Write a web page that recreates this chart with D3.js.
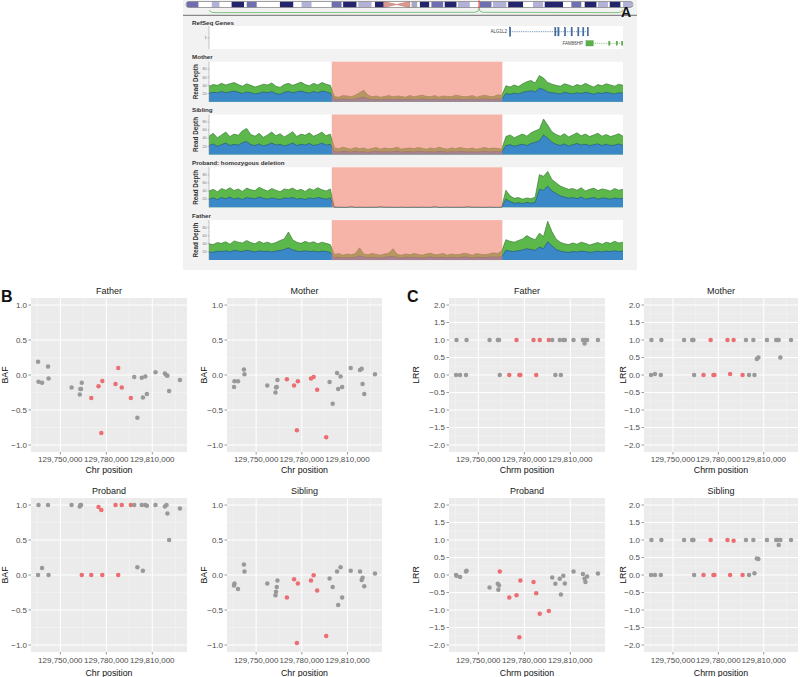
<!DOCTYPE html>
<html>
<head>
<meta charset="utf-8">
<script src="https://cdn.jsdelivr.net/npm/d3@7/dist/d3.min.js"></script>
<style>
html,body{margin:0;padding:0;background:#fff;}
svg{display:block;}
text{font-family:"Liberation Sans",Arial,Helvetica,sans-serif;}
</style>
</head>
<body>
<svg id="chart" width="800" height="677"></svg>
<script>
// ================= DATA =================
// --- Panel A: chromosome 3 ideogram (Mb) ---
const chromosomeLengthMb = 198;
const ideogramBands = [
  [0.3,5.5,"gpos50"],[11.4,14.8,"gpos25"],[20.2,25.7,"gpos100"],[26.9,31.3,"gpos50"],
  [41.6,47.5,"gpos100"],[51.2,55.6,"gpos25"],[64.5,68.9,"gpos50"],[69.6,75.5,"gpos100"],
  [76.3,82.2,"gpos25"],[83.7,87.6,"gpos100"],[87.6,93.2,"acenP"],[93.2,99.1,"acenQ"],
  [99.9,102.4,"gvar"],[103.6,107.7,"gpos100"],[108.7,113.9,"gpos50"],[114.6,119.8,"gpos100"],
  [120.5,125.7,"gpos25"],[130.1,135.3,"gpos50"],[136.0,141.9,"gpos25"],[142.7,149.3,"gpos100"],
  [153.7,158.2,"gpos25"],[158.9,167.0,"gpos100"],[170.7,175.1,"gpos50"],[176.6,181.8,"gpos100"],
  [182.5,186.9,"gpos25"],[187.7,192.4,"gpos100"],[193.6,197.7,"gpos25"]
];
const regionMarkerMb = 129.8;

// --- Panel A: browser region (bp) ---
const browserStart = 129700000;
const browserEnd = 129900000;
const deletionStart = 129759300;
const deletionEnd = 129841700;

const geneNames = ["ALG1L2", "FAM86HP"];
const geneStarts = [129845400, 129882100];
const geneEnds = [129883100, 129900000];
const geneExons = [
  [[129845100,129845800],[129867000,129867600],[129868500,129869100],[129871700,129872300],
   [129874900,129875500],[129878100,129878700],[129880500,129881100],[129882700,129883300]],
  [[129882100,129885650],[129893100,129893700],[129896700,129897300],[129899300,129899900]]
];

const depthTrackNames = ["Mother", "Sibling", "Proband: homozygous deletion", "Father"];
const depthTicks = [20, 40, 60, 80];
const motherDepthGreen = [38,42,40,45,41,44,47,42,38,44,40,36,39,43,41,46,38,35,42,45,40,44,48,42,39,45,41,47,43,40,
  13,11,15,14,12,16,22,28,16,12,14,11,13,15,12,14,13,11,15,12,14,16,13,12,15,11,14,13,12,16,14,12,13,15,11,14,16,13,12,17,15,
  39,36,41,37,44,49,52,46,64,58,47,43,40,38,44,41,37,42,39,45,40,36,42,39,44,41,38,43,40];
const motherDepthBlue = [21,23,22,25,22,24,26,23,20,24,22,19,21,24,22,25,20,18,23,25,22,24,26,23,21,25,22,26,24,21,
  6,5,7,6,5,7,9,11,7,5,6,5,6,7,5,6,6,5,7,5,6,7,6,5,7,5,6,6,5,7,6,5,6,7,5,6,7,6,5,7,6,
  20,18,21,19,23,25,27,24,33,30,24,22,21,19,23,21,19,22,20,23,21,18,22,20,23,21,19,22,21];
const siblingDepthGreen = [45,52,41,48,55,44,50,47,58,64,49,45,52,42,48,55,46,51,43,49,56,44,50,47,53,45,49,55,46,50,
  16,14,18,15,13,17,14,16,12,15,17,13,16,14,15,18,13,15,16,14,17,15,13,16,14,18,15,13,16,14,17,15,14,16,13,15,17,14,16,15,13,
  44,48,41,46,50,45,53,58,62,87,72,56,49,45,51,43,48,53,46,50,44,48,52,45,49,44,47,51,45];
const siblingDepthBlue = [22,26,20,24,28,22,25,23,29,32,24,22,26,21,24,28,23,25,21,24,28,22,25,23,27,22,24,28,23,25,
  7,6,8,7,6,8,6,7,5,7,8,6,7,6,7,8,6,7,7,6,8,7,6,7,6,8,7,6,7,6,8,7,6,7,6,7,8,6,7,7,6,
  22,24,20,23,25,22,27,30,33,48,40,30,25,22,26,21,24,27,23,25,22,24,26,22,25,22,23,26,22];
const probandDepthGreen = [40,44,38,46,42,48,41,45,39,47,43,41,49,44,40,46,42,38,45,43,47,41,44,39,46,42,48,43,40,45,
  0,1,0,0,2,0,1,0,0,1,0,2,0,1,0,0,1,0,0,1,0,1,0,0,2,0,0,1,0,0,1,0,2,0,1,0,0,1,0,0,1,
  42,28,22,24,20,23,21,25,80,76,88,68,60,52,48,44,46,42,48,40,44,47,41,45,43,40,46,42,44];
const probandDepthBlue = [20,23,19,24,21,25,20,23,19,24,22,21,25,22,20,23,21,19,23,22,24,20,22,19,23,21,24,22,20,23,
  0,0,0,0,1,0,0,0,0,0,0,1,0,0,0,0,0,0,0,0,0,0,0,0,1,0,0,0,0,0,0,0,1,0,0,0,0,0,0,0,0,
  20,14,10,11,9,12,10,12,44,42,52,40,34,28,25,22,24,21,25,20,22,24,20,23,22,20,23,21,22];
const fatherDepthGreen = [40,38,43,41,45,39,47,44,42,48,43,40,46,41,44,40,43,48,52,69,50,44,41,46,42,45,40,44,41,38,
  14,16,12,15,13,16,30,15,13,16,14,12,15,17,28,14,12,15,13,16,14,12,15,17,13,14,16,12,15,13,14,17,15,12,16,14,13,15,18,16,22,
  50,46,44,48,52,60,54,50,66,58,95,70,52,44,40,38,42,39,44,41,37,40,43,39,44,41,46,42,44];
const fatherDepthBlue = [20,19,22,21,23,20,24,22,21,24,22,20,23,21,22,20,22,24,26,30,25,22,21,23,21,22,20,22,21,19,
  6,7,5,6,6,7,10,7,6,7,6,5,7,8,9,6,5,7,6,7,6,5,7,8,6,6,7,5,7,6,6,8,7,5,7,6,6,7,8,7,8,
  24,22,21,23,25,28,26,24,32,28,45,35,26,22,20,19,21,20,22,21,19,20,22,20,22,21,23,21,22];

// --- Panels B & C: SNP positions and values ---
const snpPositions = [129735500,129735780,129738090,129741975,129742345,129757330,129762695,
  129763065,129763530,129763990,129770190,129774905,129776755,129777400,129786005,129787760,
  129790075,129795995,129798215,129800250,129803120,129803860,129805430,129806450,129812090,
  129818195,129819305,129819860,129820970,129828000];

const bafFather = [0.19,-0.095,-0.11,0.12,-0.05,-0.18,-0.28,-0.20,-0.20,-0.11,-0.33,-0.16,-0.83,
  -0.085,-0.13,0.10,-0.18,-0.33,-0.03,-0.61,-0.04,-0.32,-0.02,-0.27,0.04,0.02,-0.005,-0.01,-0.23,-0.07];
const bafMother = [-0.17,-0.09,-0.09,0.08,0.01,-0.15,-0.25,-0.18,-0.17,-0.07,-0.06,-0.15,-0.79,
  -0.09,-0.05,-0.03,-0.21,-0.89,-0.10,-0.41,0.03,-0.20,-0.02,-0.17,0.10,0.07,0.09,-0.13,-0.27,0.01];
const bafProband = [0.0,1.0,0.1,1.0,0.0,1.0,0.98,1.0,1.0,0.0,0.0,0.97,0.93,0.0,1.0,0.0,1.0,1.0,
  1.0,0.11,1.0,0.06,1.0,0.99,1.0,0.98,1.0,0.88,0.5,0.95];
const bafSibling = [-0.15,-0.12,-0.20,0.15,0.05,-0.12,-0.29,-0.24,-0.17,-0.08,-0.32,-0.06,-0.97,
  -0.12,-0.08,-0.005,-0.22,-0.87,-0.05,-0.17,0.05,-0.43,0.11,-0.32,0.06,0.05,-0.07,-0.04,-0.16,0.02];

const lrrFather = [0,1,0,0,1,1,1,1,1,0,0,1,0,0,1,0,1,1,1,0,1,0,1,1,1,1,0.9,1,1,1];
const lrrMother = [0,1,0.03,0,1,1,1,1,1,0,0,1,0,0,1,0.03,1,0,1,0,1,0,0.46,0.5,1,1,1,1,0.5,1];
const lrrProband = [0.0,-0.02,-0.06,0.1,0.12,-0.36,-0.25,-0.42,-0.3,0.1,-0.64,-0.58,-1.78,-0.16,
  -0.2,-0.52,-1.11,-1.03,-0.07,-0.25,-0.11,-0.56,-0.02,-0.24,0.1,0.03,-0.11,-0.2,-0.04,0.04];
const lrrSibling = [0,1,0,0,1,1,1,1,1,0,0,1,0,0,1,0,0.98,0,1,0,1,0.05,0.47,0.46,1,1,1,0.86,1,1];

const deletionSnpsFamily = [10,11,12,13,14,15,16,17];
const deletionSnpsProband = [9,10,11,12,13,14,15,16,17];

const bafTicks = [-1, -0.5, 0, 0.5, 1];
const lrrTicks = [-2, -1.5, -1, -0.5, 0, 0.5, 1, 1.5, 2];
const positionTicks = [129750000, 129780000, 129810000];

// ================= DRAWING =================
const svg = d3.select("#chart");

// ---------- Panel A ----------
const A = svg.append("g");
A.append("rect").attr("x", 183).attr("y", 0).attr("width", 454).attr("height", 270).attr("fill", "#f2f2f2");

const ideoX = d3.scaleLinear().domain([0, chromosomeLengthMb]).range([186, 633]);
const ideoTop = 1.5, ideoH = 6;
const bandColor = {gpos100:"#24246e", gpos75:"#45458f", gpos50:"#6e6eb0", gpos25:"#b2b2d8", gvar:"#a8a8c0"};
const defs = svg.append("defs");
defs.append("clipPath").attr("id", "ideoClip").append("rect")
  .attr("x", ideoX(0)).attr("y", ideoTop).attr("width", ideoX(chromosomeLengthMb) - ideoX(0))
  .attr("height", ideoH).attr("rx", 3).attr("ry", 3);
const ideo = A.append("g").attr("clip-path", "url(#ideoClip)");
ideo.append("rect").attr("x", ideoX(0)).attr("y", ideoTop).attr("width", ideoX(chromosomeLengthMb) - ideoX(0))
  .attr("height", ideoH).attr("fill", "#fff");
ideogramBands.forEach(b => {
  if (b[2] === "acenP") {
    ideo.append("path").attr("d", `M${ideoX(b[0])},${ideoTop}L${ideoX(b[1])},${ideoTop+ideoH/2}L${ideoX(b[0])},${ideoTop+ideoH}Z`)
      .attr("fill", "#d99a94").attr("stroke", "#c0605a").attr("stroke-width", 0.5);
  } else if (b[2] === "acenQ") {
    ideo.append("path").attr("d", `M${ideoX(b[1])},${ideoTop}L${ideoX(b[0])},${ideoTop+ideoH/2}L${ideoX(b[1])},${ideoTop+ideoH}Z`)
      .attr("fill", "#d99a94").attr("stroke", "#c0605a").attr("stroke-width", 0.5);
  } else {
    ideo.append("rect").attr("x", ideoX(b[0])).attr("y", ideoTop).attr("width", ideoX(b[1]) - ideoX(b[0]))
      .attr("height", ideoH).attr("fill", bandColor[b[2]]);
  }
});
A.append("rect").attr("x", ideoX(0)).attr("y", ideoTop).attr("width", ideoX(chromosomeLengthMb) - ideoX(0))
  .attr("height", ideoH).attr("rx", 3).attr("ry", 3).attr("fill", "none").attr("stroke", "#666").attr("stroke-width", 0.6);
const mk = ideoX(regionMarkerMb);
A.append("line").attr("x1", mk).attr("x2", mk).attr("y1", 0.5).attr("y2", ideoTop + ideoH + 1)
  .attr("stroke", "#e02a20").attr("stroke-width", 1);

const bx = d3.scaleLinear().domain([browserStart, browserEnd]).range([209, 623]);
// zoom guide lines
A.append("path").attr("d", `M${bx(browserStart)},10 Q${bx(browserStart)+1},12.6 ${bx(browserStart)+5},12.6 L${mk-4},12.3 Q${mk},12 ${mk},${ideoTop+ideoH+1} Q${mk},12 ${mk+4},12.3 L${bx(browserEnd)-5},12.6 Q${bx(browserEnd)-1},12.6 ${bx(browserEnd)},10`)
  .attr("fill", "none").attr("stroke", "#52b050").attr("stroke-width", 0.7);
A.append("line").attr("x1", 183).attr("x2", 637).attr("y1", 15.3).attr("y2", 15.3).attr("stroke", "#6f6f6f").attr("stroke-width", 1);

A.append("text").attr("x", 621).attr("y", 17).attr("font-size", 14).attr("font-weight", "bold").attr("fill", "#111").text("A");

// RefSeq genes track
A.append("text").attr("x", 192).attr("y", 24.8).attr("font-size", 6.2).attr("font-weight", "bold").attr("fill", "#333").text("RefSeq Genes");
A.append("rect").attr("x", 209).attr("y", 26).attr("width", 414).attr("height", 23).attr("fill", "#fff");
A.append("line").attr("x1", 209).attr("x2", 209).attr("y1", 26).attr("y2", 49).attr("stroke", "#888").attr("stroke-width", 0.5);
A.append("line").attr("x1", 207.5).attr("x2", 209).attr("y1", 37.7).attr("y2", 37.7).attr("stroke", "#888").attr("stroke-width", 0.5);
A.append("text").attr("x", 206.5).attr("y", 39).attr("font-size", 3.8).attr("text-anchor", "end").attr("fill", "#666").text("1");
const geneColors = ["#3c6ea6", "#5cb14a"];
const geneRowY = [31.7, 43.3];
const geneExonH = [[9.5, 8.5], [5.4, 4]];
geneNames.forEach((name, i) => {
  const y = geneRowY[i];
  A.append("line").attr("x1", bx(geneStarts[i])).attr("x2", bx(geneEnds[i])).attr("y1", y).attr("y2", y)
    .attr("stroke", geneColors[i]).attr("stroke-width", 0.7).attr("stroke-dasharray", "1.2,1");
  geneExons[i].forEach((e, j) => {
    const h = j === 0 ? geneExonH[i][0] : geneExonH[i][1];
    const w = Math.max(1.3, bx(e[1]) - bx(e[0]));
    A.append("rect").attr("x", bx(e[0])).attr("y", y - h / 2).attr("width", w).attr("height", h)
      .attr("fill", geneColors[i]).attr("stroke", d3.color(geneColors[i]).darker(0.8)).attr("stroke-width", 0.3);
  });
  A.append("text").attr("x", bx(geneStarts[i]) - 3).attr("y", y + 1.6).attr("font-size", 4.5)
    .attr("text-anchor", "end").attr("fill", "#444").text(name);
});

// Read depth tracks
const depthGreen = [motherDepthGreen, siblingDepthGreen, probandDepthGreen, fatherDepthGreen];
const depthBlue = [motherDepthBlue, siblingDepthBlue, probandDepthBlue, fatherDepthBlue];
depthTrackNames.forEach((name, i) => {
  const top = 61.7 + i * 52.8, h = 40;
  const n = depthGreen[i].length;
  const binPos = d3.range(n).map(k => browserStart + k * (browserEnd - browserStart) / (n - 1));
  const y = d3.scaleLinear().domain([0, 98]).range([top + h, top]);
  const g = A.append("g");
  g.append("text").attr("x", 192).attr("y", top - 2.4).attr("font-size", 6.2).attr("font-weight", "bold").attr("fill", "#333").text(name);
  g.append("rect").attr("x", 209).attr("y", top).attr("width", 414).attr("height", h).attr("fill", "#fff");
  const areaG = d3.area().x((d, k) => bx(binPos[k])).y0(y(0)).y1(d => y(d));
  const lineG = d3.line().x((d, k) => bx(binPos[k])).y(d => y(d));
  g.append("path").attr("d", areaG(depthGreen[i])).attr("fill", "#5cb84a");
  g.append("path").attr("d", lineG(depthGreen[i])).attr("fill", "none").attr("stroke", "#2f6f2a").attr("stroke-width", 0.6);
  g.append("path").attr("d", areaG(depthBlue[i])).attr("fill", "#3b88c9");
  g.append("path").attr("d", lineG(depthBlue[i])).attr("fill", "none").attr("stroke", "#1c4f82").attr("stroke-width", 0.6);
  g.append("rect").attr("x", bx(deletionStart)).attr("y", top).attr("width", bx(deletionEnd) - bx(deletionStart))
    .attr("height", h).attr("fill", "rgb(240,128,110)").attr("opacity", 0.6);
  g.append("line").attr("x1", 209).attr("x2", 209).attr("y1", top).attr("y2", top + h).attr("stroke", "#888").attr("stroke-width", 0.5);
  depthTicks.forEach(t => {
    g.append("line").attr("x1", 207.5).attr("x2", 209).attr("y1", y(t)).attr("y2", y(t)).attr("stroke", "#888").attr("stroke-width", 0.5);
    g.append("text").attr("x", 206.5).attr("y", y(t) + 1.3).attr("font-size", 3.6).attr("text-anchor", "end").attr("fill", "#777").text(t);
  });
  g.append("text").attr("transform", `translate(197.6,${top + h / 2}) rotate(-90)`).attr("text-anchor", "middle")
    .attr("font-size", 6.3).attr("font-weight", "bold").attr("fill", "#333").text("Read Depth");
});

// ---------- Panels B & C ----------
const xExt = d3.extent(snpPositions);
const xPad = 0.05 * (xExt[1] - xExt[0]);
const xDomain = [xExt[0] - xPad, xExt[1] + xPad];
function minorBreaks(major, domain) {
  const step = major[1] - major[0], out = [];
  for (let v = major[0] - step / 2; v <= major[major.length - 1] + step / 2 + 1e-9; v += step)
    if (v >= domain[0] && v <= domain[1]) out.push(v);
  return out;
}
const fmtY = d3.format(".1f"), fmtX = d3.format(",");

function scatter(o) {
  const g = svg.append("g");
  const x = d3.scaleLinear().domain(xDomain).range([o.left, o.right]);
  const pad = 0.05 * (o.ticks[o.ticks.length - 1] - o.ticks[0]);
  const yDom = [o.ticks[0] - pad, o.ticks[o.ticks.length - 1] + pad];
  const y = d3.scaleLinear().domain(yDom).range([o.bottom, o.top]);
  g.append("rect").attr("x", o.left).attr("y", o.top).attr("width", o.right - o.left).attr("height", o.bottom - o.top).attr("fill", "#ebebeb");
  minorBreaks(o.ticks, yDom).forEach(v => g.append("line").attr("x1", o.left).attr("x2", o.right).attr("y1", y(v)).attr("y2", y(v)).attr("stroke", "#f6f6f6").attr("stroke-width", 0.5));
  minorBreaks(positionTicks, xDomain).forEach(v => g.append("line").attr("x1", x(v)).attr("x2", x(v)).attr("y1", o.top).attr("y2", o.bottom).attr("stroke", "#f6f6f6").attr("stroke-width", 0.5));
  o.ticks.forEach(v => g.append("line").attr("x1", o.left).attr("x2", o.right).attr("y1", y(v)).attr("y2", y(v)).attr("stroke", "#fff").attr("stroke-width", 1));
  positionTicks.forEach(v => g.append("line").attr("x1", x(v)).attr("x2", x(v)).attr("y1", o.top).attr("y2", o.bottom).attr("stroke", "#fff").attr("stroke-width", 1));
  // points
  g.selectAll("circle").data(o.values).join("circle")
    .attr("cx", (d, i) => x(snpPositions[i])).attr("cy", d => y(d)).attr("r", 2.25)
    .attr("fill", (d, i) => o.red.includes(i) ? "#ec6e72" : "#999999");
  // axes
  o.ticks.forEach(v => {
    g.append("line").attr("x1", o.left - 2.5).attr("x2", o.left).attr("y1", y(v)).attr("y2", y(v)).attr("stroke", "#333").attr("stroke-width", 0.5);
    g.append("text").attr("x", o.left - 4).attr("y", y(v)).attr("dy", "0.35em").attr("text-anchor", "end")
      .attr("font-size", 8).attr("fill", "#4d4d4d").text(fmtY(v));
  });
  positionTicks.forEach(v => {
    g.append("line").attr("x1", x(v)).attr("x2", x(v)).attr("y1", o.bottom).attr("y2", o.bottom + 2.5).attr("stroke", "#333").attr("stroke-width", 0.5);
    g.append("text").attr("x", x(v)).attr("y", o.tickBase).attr("text-anchor", "middle")
      .attr("font-size", 8).attr("fill", "#4d4d4d").text(fmtX(v));
  });
  const cx = (o.left + o.right) / 2;
  g.append("text").attr("x", cx).attr("y", o.top - 4.5).attr("text-anchor", "middle").attr("font-size", 9).attr("fill", "#1a1a1a").text(o.title);
  g.append("text").attr("x", cx).attr("y", o.titleBase).attr("text-anchor", "middle").attr("font-size", 8.8).attr("fill", "#111").text(o.xTitle);
  g.append("text").attr("transform", `translate(${o.yTitleX},${(o.top + o.bottom) / 2}) rotate(-90)`).attr("text-anchor", "middle")
    .attr("font-size", 8.8).attr("fill", "#111").text(o.yTitle);
}

const rowTop = [{top: 298, bottom: 452, tickBase: 462.3, titleBase: 472.6}, {top: 498, bottom: 652, tickBase: 663, titleBase: 675.5}];
const bCols = [{left: 31, right: 187, yTitleX: 8}, {left: 227, right: 382, yTitleX: 207}];
const cCols = [{left: 449, right: 605, yTitleX: 418.5}, {left: 644, right: 798, yTitleX: 625.5}];

const bPanels = [[bafFather, "Father", deletionSnpsFamily], [bafMother, "Mother", deletionSnpsFamily],
                 [bafProband, "Proband", deletionSnpsProband], [bafSibling, "Sibling", deletionSnpsFamily]];
const cPanels = [[lrrFather, "Father", deletionSnpsFamily], [lrrMother, "Mother", deletionSnpsFamily],
                 [lrrProband, "Proband", deletionSnpsProband], [lrrSibling, "Sibling", deletionSnpsFamily]];
bPanels.forEach((p, i) => {
  const r = rowTop[Math.floor(i / 2)], c = bCols[i % 2];
  scatter(Object.assign({}, r, c, {values: p[0], title: p[1], red: p[2], ticks: bafTicks, xTitle: "Chr position", yTitle: "BAF"}));
});
cPanels.forEach((p, i) => {
  const r = rowTop[Math.floor(i / 2)], c = cCols[i % 2];
  scatter(Object.assign({}, r, c, {values: p[0], title: p[1], red: p[2], ticks: lrrTicks, xTitle: "Chrm position", yTitle: "LRR"}));
});
svg.append("text").attr("x", 1).attr("y", 302).attr("font-size", 16).attr("font-weight", "bold").attr("fill", "#111").text("B");
svg.append("text").attr("x", 407).attr("y", 302).attr("font-size", 16).attr("font-weight", "bold").attr("fill", "#111").text("C");
</script>
</body>
</html>
